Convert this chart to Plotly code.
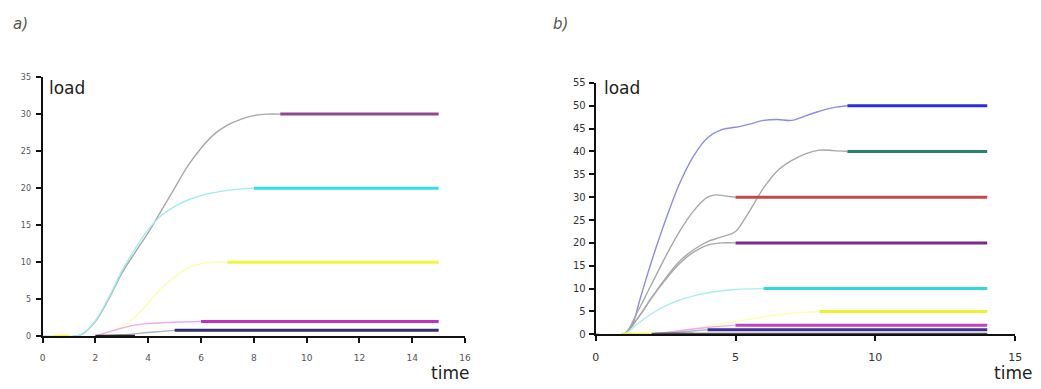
import plotly.graph_objects as go

W, H = 1041, 389

# ---------------- Panel a) data ----------------
A_T30 = [0, 1.2, 1.5, 2, 2.5, 3, 3.5, 4, 4.5, 5, 5.5, 6, 6.5, 7, 7.5, 8, 8.5, 9]
A_L30 = [0, 0, 0.3, 2, 5, 8.5, 11.3, 14, 17, 20, 23, 25.4, 27.3, 28.5, 29.3, 29.8, 30, 30]
A_T20 = [0, 1.2, 1.5, 2, 2.5, 3, 3.5, 4, 4.5, 5, 5.5, 6, 6.5, 7, 7.5, 8]
A_L20 = [0, 0, 0.3, 2.1, 5.2, 8.8, 11.8, 14.4, 16.3, 17.5, 18.4, 19, 19.4, 19.7, 19.9, 20]
A_T10 = [2, 2.5, 3, 3.5, 4, 4.5, 5, 5.5, 6, 6.5, 7]
A_L10 = [0, 0.5, 1.3, 2.6, 4.5, 6.5, 8, 9.2, 9.8, 10, 10]
A_T2 = [2, 2.5, 3, 3.5, 4, 5, 6]
A_L2 = [0, 0.6, 1.1, 1.5, 1.7, 1.9, 2]
A_T1 = [2, 3, 4, 5]
A_L1 = [0, 0.2, 0.5, 0.8]
A_FLAT_START = [9, 8, 7, 6, 5]
A_FLAT_LEVEL = [30, 20, 10, 2, 0.8]
A_FLAT_END = 15
A_BASE_T = [[0.4, 1.0], [2.0, 3.5]]
A_X_TICKS = [0, 2, 4, 6, 8, 10, 12, 14, 16]
A_Y_TICKS = [0, 5, 10, 15, 20, 25, 30, 35]

# ---------------- Panel b) data ----------------
B_T50 = [0, 1, 1.3, 1.6, 2, 2.5, 3, 3.5, 4, 4.5, 5, 5.5, 6, 6.5, 7, 7.5, 8, 8.5, 9]
B_L50 = [0, 0, 2, 8, 16, 25, 33, 39, 43, 44.8, 45.3, 46, 46.8, 47, 46.8, 47.8, 48.8, 49.6, 50]
B_T40 = [0, 1, 1.5, 2, 2.5, 3, 3.5, 4, 4.5, 5, 5.3, 5.7, 6, 6.5, 7, 7.5, 8, 8.5, 9]
B_L40 = [0, 0, 3.5, 8, 12.3, 16, 18.5, 20.3, 21.3, 22.5, 25, 29, 32, 35.8, 38, 39.5, 40.3, 40.2, 40]
B_T30 = [0, 1, 1.5, 2, 2.5, 3, 3.5, 4, 4.3, 4.6, 5]
B_L30 = [0, 0, 5, 11, 17, 22.5, 27, 30, 30.5, 30.3, 30]
B_T20 = [0, 1, 1.5, 2, 2.5, 3, 3.5, 4, 4.5, 5]
B_L20 = [0, 0, 3.5, 8, 12, 15.5, 18, 19.5, 20, 20]
B_T10 = [0, 1, 1.5, 2, 2.5, 3, 3.5, 4, 5, 6]
B_L10 = [0, 0, 2.3, 4.5, 6.2, 7.5, 8.4, 9.1, 9.8, 10]
B_T5 = [2, 3, 4, 5, 6, 7, 8]
B_L5 = [0, 0.8, 1.8, 2.8, 3.8, 4.6, 5]
B_T2 = [2, 3, 4, 5]
B_L2 = [0, 0.8, 1.5, 2]
B_T1 = [2, 3, 4]
B_L1 = [0, 0.5, 1]
B_FLAT_START = [9, 9, 5, 5, 6, 8, 5, 4, 2]
B_FLAT_LEVEL = [50, 40, 30, 20, 10, 5, 2, 1, 0]
B_FLAT_END = 14
B_BASE_T = [[0.9, 2.1], [2.1, 3.5]]
B_X_TICKS = [0, 5, 10, 15]
B_Y_TICKS = [0, 5, 10, 15, 20, 25, 30, 35, 40, 45, 50, 55]

# ---------------- styles ----------------
A_CURVE_COLORS = ["#a8a8a8", "#9eeeee", "#fdfdb0", "#f0a8f0", "#b0b0c0"]
A_FLAT_COLORS = ["#8e4a90", "#30e0e8", "#f4f43a", "#c030c8", "#303070"]
B_CURVE_COLORS = ["#8c8ce6", "#a8a8a8", "#a8a8a8", "#a8a8a8", "#a8f0ec", "#fdfdb8", "#f0a8f0", "#b0b0d0"]
B_FLAT_COLORS = ["#2c2cd8", "#2a8070", "#c84848", "#7a2a8a", "#30d8e0", "#f0f030", "#c040c8", "#403090", "#505050"]

fig = go.Figure()


def px_x(p):
    return p / W


def px_y(p):
    return 1 - p / H


def add_panel(curves_t, curves_l, curve_cols, flat_start, flat_level, flat_end, flat_cols, base, base_cols, xa, ya):
    for t, l, c in zip(curves_t, curves_l, curve_cols):
        fig.add_trace(go.Scatter(x=t, y=l, mode="lines", line=dict(color=c, width=1.4, shape="spline"),
                                 xaxis=xa, yaxis=ya, showlegend=False, hoverinfo="skip"))
    for (b0, b1), c in zip(base, base_cols):
        fig.add_trace(go.Scatter(x=[b0, b1], y=[0, 0], mode="lines", line=dict(color=c, width=3),
                                 xaxis=xa, yaxis=ya, showlegend=False, hoverinfo="skip", cliponaxis=False))
    for s, lv, c in zip(flat_start, flat_level, flat_cols):
        fig.add_trace(go.Scatter(x=[s, flat_end], y=[lv, lv], mode="lines", line=dict(color=c, width=3),
                                 xaxis=xa, yaxis=ya, showlegend=False, hoverinfo="skip", cliponaxis=False))


add_panel([A_T30, A_T20, A_T10, A_T2, A_T1], [A_L30, A_L20, A_L10, A_L2, A_L1], A_CURVE_COLORS,
          A_FLAT_START, A_FLAT_LEVEL, A_FLAT_END, A_FLAT_COLORS, A_BASE_T, ["#f4f43a", "#222222"], "x", "y")
add_panel([B_T50, B_T40, B_T30, B_T20, B_T10, B_T5, B_T2, B_T1],
          [B_L50, B_L40, B_L30, B_L20, B_L10, B_L5, B_L2, B_L1], B_CURVE_COLORS,
          B_FLAT_START, B_FLAT_LEVEL, B_FLAT_END, B_FLAT_COLORS, B_BASE_T, ["#f0f030", "#6a2a7a"], "x2", "y2")

axis_common = dict(showgrid=False, zeroline=False, showline=True, linecolor="#111111", linewidth=2,
                   ticks="outside", ticklen=5, tickwidth=2, tickcolor="#111111", fixedrange=True)

fig.update_layout(
    width=W, height=H, margin=dict(l=0, r=0, t=0, b=0),
    paper_bgcolor="white", plot_bgcolor="white",
    font=dict(family="DejaVu Sans", color="#222"),
    xaxis=dict(domain=[px_x(39), px_x(466)], range=[0, 16], tickvals=A_X_TICKS, anchor="y",
               ticklabelstandoff=7, tickfont=dict(size=9, color="#555"), **axis_common),
    yaxis=dict(domain=[px_y(340), px_y(74)], range=[0, 35], tickvals=A_Y_TICKS, anchor="x",
               ticklabelstandoff=3, tickfont=dict(size=8, color="#555"), **axis_common),
    xaxis2=dict(domain=[px_x(598), px_x(1022)], range=[0, 15], tickvals=B_X_TICKS, anchor="y2",
                ticklabelstandoff=6, tickfont=dict(size=11, color="#333"), **axis_common),
    yaxis2=dict(domain=[px_y(338), px_y(80)], range=[0, 55], tickvals=B_Y_TICKS, anchor="x2",
                ticklabelstandoff=1, tickfont=dict(size=10, color="#333"), **axis_common),
)

ann = [
    ("a)", 8, 20, "left", 15, "#555", True),
    ("load", 44, 85, "left", 17, "#222", False),
    ("time", 471, 378, "right", 17, "#222", False),
    ("b)", 554, 20, "left", 15, "#555", True),
    ("load", 605, 85, "left", 17, "#222", False),
    ("time", 1040, 378, "right", 17, "#222", False),
]
for text, x, y, xa, size, col, ital in ann:
    fig.add_annotation(text=f"<i>{text}</i>" if ital else text, x=px_x(x), y=px_y(y), xref="paper", yref="paper",
                       xanchor=xa, yanchor="middle", showarrow=False, borderpad=0,
                       font=dict(size=size, color=col, family="DejaVu Sans"))

fig.write_html("out.html", config={"displayModeBar": False},
               post_script="document.body.style.margin='0';document.body.style.overflow='hidden';")
